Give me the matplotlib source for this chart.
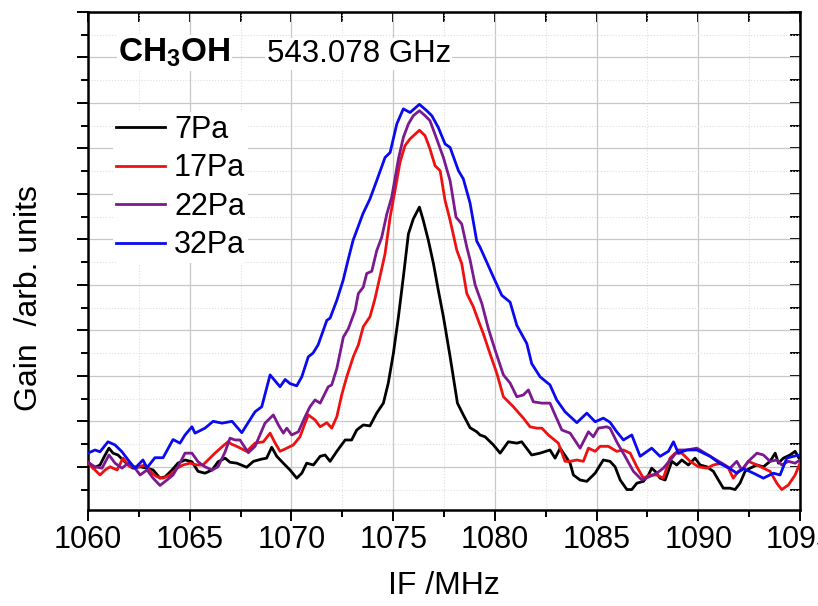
import matplotlib
matplotlib.use("Agg")
import matplotlib.pyplot as plt
from matplotlib.ticker import MultipleLocator, NullFormatter

plt.rcParams['font.family'] = ['Liberation Sans', 'DejaVu Sans']
plt.rcParams['mathtext.fontset'] = 'custom'
plt.rcParams['mathtext.rm'] = 'Liberation Sans'
plt.rcParams['mathtext.bf'] = 'Liberation Sans:bold'

### Data ###
# IF frequency in MHz, gain in arb. units (0 = baseline)

x_7pa = [1060.00, 1060.25, 1060.59, 1060.84, 1061.03, 1061.23, 1061.47, 1061.72, 1061.97, 1062.21,
         1062.56, 1062.90, 1063.20, 1063.54, 1063.79, 1064.13, 1064.42, 1064.77, 1065.11, 1065.41,
         1065.75, 1066.10, 1066.39, 1066.74, 1066.98, 1067.31, 1067.80, 1068.13, 1068.54, 1068.78,
         1069.03, 1069.28, 1069.60, 1069.93, 1070.26, 1070.51, 1070.75, 1071.08, 1071.41, 1071.65,
         1071.90, 1072.23, 1072.64, 1072.96, 1073.21, 1073.53, 1073.86, 1074.19, 1074.52, 1074.76,
         1075.01, 1075.26, 1075.50, 1075.75, 1075.99, 1076.29, 1076.48, 1076.73, 1076.98, 1077.22,
         1077.47, 1077.80, 1078.16, 1078.45, 1078.78, 1079.11, 1079.27, 1079.52, 1079.93, 1080.26,
         1080.66, 1081.08, 1081.32, 1081.81, 1082.22, 1082.71, 1082.96, 1083.21, 1083.70, 1083.86,
         1084.19, 1084.52, 1084.93, 1085.33, 1085.66, 1085.91, 1086.16, 1086.49, 1086.73, 1086.98,
         1087.30, 1087.55, 1087.71, 1087.88, 1088.12, 1088.37, 1088.70, 1088.94, 1089.19, 1089.51,
         1089.84, 1090.09, 1090.42, 1090.74, 1090.99, 1091.23, 1091.56, 1091.81, 1092.05, 1092.30,
         1092.55, 1092.88, 1093.20, 1093.53, 1093.78, 1093.94, 1094.18, 1094.51, 1094.76, 1095.00]
y_7pa = [0.12, -0.03, 0.04, 0.26, 0.41, 0.30, 0.26, 0.15, 0.04, -0.03,
         0.00, -0.03, -0.07, -0.25, -0.22, -0.07, 0.08, 0.15, 0.11, -0.10,
         -0.14, -0.07, 0.11, 0.19, 0.10, 0.08, -0.01, 0.12, 0.17, 0.19,
         0.43, 0.23, 0.08, -0.07, -0.25, -0.14, 0.08, 0.04, 0.23, 0.26,
         0.12, 0.34, 0.59, 0.59, 0.81, 0.92, 0.90, 1.18, 1.40, 1.84,
         2.49, 3.30, 4.17, 5.12, 5.45, 5.71, 5.42, 4.98, 4.47, 3.88,
         3.30, 2.42, 1.40, 1.14, 0.86, 0.77, 0.70, 0.66, 0.48, 0.30,
         0.55, 0.52, 0.55, 0.26, 0.30, 0.37, 0.19, 0.41, 0.08, -0.18,
         -0.29, -0.32, -0.14, 0.15, 0.12, 0.00, -0.29, -0.50, -0.50, -0.36,
         -0.32, -0.18, -0.03, -0.10, -0.25, -0.29, 0.12, 0.04, 0.15, 0.04,
         0.19, 0.04, 0.00, -0.10, -0.29, -0.47, -0.47, -0.50, -0.36, -0.10,
         -0.03, 0.04, 0.00, 0.12, 0.30, 0.08, 0.19, 0.26, 0.34, 0.15]

x_17pa = [1060.00, 1060.25, 1060.59, 1060.84, 1061.08, 1061.43, 1061.72, 1062.06, 1062.46, 1062.80,
          1063.15, 1063.39, 1063.69, 1064.03, 1064.38, 1064.67, 1065.01, 1065.36, 1065.65, 1065.90,
          1066.24, 1066.59, 1066.88, 1067.05, 1067.31, 1067.80, 1068.21, 1068.62, 1068.95, 1069.19,
          1069.44, 1069.77, 1070.09, 1070.42, 1070.67, 1070.83, 1071.16, 1071.41, 1071.74, 1071.98,
          1072.23, 1072.47, 1072.72, 1073.04, 1073.29, 1073.53, 1073.86, 1074.11, 1074.36, 1074.60,
          1074.85, 1075.09, 1075.34, 1075.58, 1075.83, 1076.29, 1076.57, 1076.81, 1077.06, 1077.31,
          1077.55, 1077.80, 1078.13, 1078.37, 1078.62, 1078.94, 1079.20, 1079.43, 1079.76, 1080.10,
          1080.42, 1080.91, 1081.40, 1081.73, 1082.06, 1082.31, 1082.63, 1083.12, 1083.45, 1083.70,
          1084.03, 1084.35, 1084.60, 1084.93, 1085.17, 1085.58, 1085.99, 1086.32, 1086.65, 1086.98,
          1087.30, 1087.63, 1087.96, 1088.28, 1088.61, 1088.86, 1089.19, 1089.60, 1090.01, 1090.42,
          1090.74, 1091.15, 1091.48, 1091.72, 1091.97, 1092.22, 1092.46, 1092.88, 1093.20, 1093.53,
          1093.86, 1094.10, 1094.43, 1094.76, 1095.00]
y_17pa = [0.10, -0.03, -0.18, -0.07, 0.00, -0.07, 0.19, 0.00, 0.00, 0.04,
          -0.14, -0.22, -0.25, -0.18, -0.03, 0.04, 0.08, 0.04, 0.04, 0.15,
          0.30, 0.44, 0.55, 0.50, 0.45, 0.34, 0.52, 0.55, 0.74, 0.53,
          0.34, 0.41, 0.48, 0.66, 0.96, 1.14, 1.03, 0.88, 0.97, 0.85,
          1.10, 1.58, 1.98, 2.42, 2.68, 3.08, 3.30, 3.70, 4.20, 4.68,
          5.49, 6.07, 6.70, 7.06, 7.21, 7.40, 7.28, 6.99, 6.62, 6.51,
          5.86, 5.42, 4.76, 4.47, 3.81, 3.52, 3.20, 2.93, 2.49, 2.05,
          1.54, 1.32, 1.07, 0.88, 0.85, 0.85, 0.70, 0.52, 0.12, 0.12,
          0.15, 0.12, 0.41, 0.34, 0.45, 0.45, 0.34, 0.37, 0.30, 0.00,
          -0.25, -0.18, -0.18, -0.25, 0.19, 0.30, 0.30, 0.12, 0.00, -0.03,
          0.04, 0.08, -0.03, -0.25, -0.10, -0.03, 0.12, 0.04, -0.03, -0.10,
          -0.36, -0.50, -0.40, -0.18, 0.08]

x_22pa = [1060.00, 1060.34, 1060.69, 1061.03, 1061.33, 1061.67, 1061.97, 1062.31, 1062.56, 1062.90,
          1063.20, 1063.54, 1063.88, 1064.18, 1064.42, 1064.77, 1065.11, 1065.41, 1065.75, 1066.10,
          1066.39, 1066.74, 1066.98, 1067.23, 1067.47, 1067.88, 1068.21, 1068.70, 1069.11, 1069.36,
          1069.60, 1069.77, 1070.01, 1070.34, 1070.67, 1070.91, 1071.16, 1071.41, 1071.81, 1071.98,
          1072.23, 1072.55, 1072.80, 1073.13, 1073.29, 1073.53, 1073.70, 1073.95, 1074.19, 1074.44,
          1074.69, 1074.93, 1075.26, 1075.50, 1075.75, 1075.99, 1076.29, 1076.57, 1076.81, 1077.14,
          1077.47, 1077.80, 1078.09, 1078.37, 1078.62, 1078.78, 1079.03, 1079.36, 1079.68, 1080.01,
          1080.42, 1080.75, 1081.08, 1081.40, 1081.65, 1081.89, 1082.31, 1082.71, 1082.96, 1083.29,
          1083.70, 1084.19, 1084.60, 1084.84, 1085.09, 1085.50, 1085.66, 1085.99, 1086.40, 1086.81,
          1087.23, 1087.63, 1087.96, 1088.28, 1088.70, 1089.02, 1089.43, 1089.93, 1090.34, 1090.74,
          1091.15, 1091.56, 1091.89, 1092.14, 1092.46, 1092.88, 1093.20, 1093.53, 1093.86, 1094.10,
          1094.43, 1094.76, 1095.00]
y_22pa = [0.10, 0.00, -0.03, 0.26, 0.08, -0.03, 0.08, -0.03, -0.18, -0.07,
          -0.25, -0.41, -0.29, -0.18, 0.00, 0.30, 0.30, 0.11, 0.00, -0.07,
          0.00, 0.33, 0.63, 0.59, 0.59, 0.31, 0.45, 0.96, 1.14, 0.92,
          0.74, 0.85, 0.70, 0.77, 1.10, 1.32, 1.47, 1.40, 1.76, 1.80,
          2.16, 2.85, 3.04, 3.44, 3.81, 3.95, 4.25, 4.30, 4.75, 5.05,
          5.56, 5.93, 6.77, 7.24, 7.54, 7.72, 7.83, 7.72, 7.61, 7.21,
          6.80, 6.29, 5.49, 5.34, 4.83, 4.55, 4.00, 3.59, 3.04, 2.57,
          2.02, 1.84, 1.54, 1.58, 1.69, 1.43, 1.40, 1.40, 1.14, 0.81,
          0.74, 0.41, 0.77, 0.66, 0.85, 0.88, 0.85, 0.55, 0.23, -0.10,
          -0.29, -0.21, -0.14, -0.03, 0.19, 0.37, 0.37, 0.41, 0.30, 0.19,
          0.08, -0.03, 0.12, -0.07, 0.12, 0.30, 0.26, 0.12, 0.15, 0.04,
          0.12, 0.08, 0.15]

x_32pa = [1060.00, 1060.34, 1060.59, 1060.98, 1061.33, 1061.67, 1062.06, 1062.31, 1062.70, 1062.90,
          1063.29, 1063.69, 1064.18, 1064.52, 1064.77, 1065.11, 1065.26, 1065.75, 1066.15, 1066.59,
          1067.08, 1067.56, 1068.21, 1068.54, 1068.95, 1069.44, 1069.69, 1069.93, 1070.26, 1070.51,
          1070.83, 1071.06, 1071.31, 1071.74, 1071.90, 1072.23, 1072.54, 1072.78, 1073.03, 1073.52,
          1073.86, 1074.19, 1074.60, 1074.85, 1075.18, 1075.50, 1075.83, 1076.29, 1076.65, 1076.90,
          1077.22, 1077.55, 1077.80, 1078.21, 1078.45, 1078.78, 1079.11, 1079.27, 1079.52, 1079.93,
          1080.34, 1080.75, 1081.08, 1081.57, 1081.81, 1082.22, 1082.71, 1083.04, 1083.45, 1084.03,
          1084.52, 1084.93, 1085.33, 1085.66, 1085.99, 1086.32, 1086.73, 1087.14, 1087.71, 1088.12,
          1088.53, 1088.78, 1089.02, 1089.43, 1089.93, 1090.58, 1091.07, 1091.56, 1091.89, 1092.22,
          1092.71, 1093.20, 1093.69, 1094.02, 1094.35, 1094.67, 1095.00]
y_32pa = [0.30, 0.37, 0.33, 0.55, 0.48, 0.33, 0.10, -0.03, 0.15, -0.02,
          0.20, 0.20, 0.60, 0.52, 0.70, 0.88, 0.74, 0.85, 1.00, 0.96,
          1.00, 0.75, 1.21, 1.32, 2.02, 1.76, 1.92, 1.83, 1.78, 1.98,
          2.42, 2.50, 2.68, 3.22, 3.27, 3.66, 4.10, 4.54, 4.98, 5.57,
          5.89, 6.29, 6.80, 6.91, 7.54, 7.87, 7.79, 7.97, 7.83, 7.72,
          7.46, 7.10, 7.02, 6.51, 6.33, 5.80, 4.96, 4.83, 4.58, 4.17,
          3.77, 3.62, 3.11, 2.71, 2.27, 1.98, 1.80, 1.47, 1.21, 0.97,
          1.18, 0.99, 1.07, 0.98, 0.77, 0.59, 0.70, 0.23, 0.41, 0.23,
          0.34, 0.55, 0.30, 0.37, 0.37, 0.23, 0.07, -0.04, -0.14, -0.04,
          -0.14, -0.25, -0.14, -0.18, 0.19, 0.23, 0.26]

labels = ["7Pa", "17Pa", "22Pa", "32Pa"]
colors = ["black", "#ee1111", "#7a1a8e", "#0a0aee"]

### Plot ###
fig = plt.figure(figsize=(8.18, 6.06), dpi=100)
ax = fig.add_axes([0.1076, 0.1584, 0.8704, 0.8218])

series = [(x_7pa, y_7pa), (x_17pa, y_17pa), (x_22pa, y_22pa), (x_32pa, y_32pa)]
for (xs, ys), lab, col in zip(series, labels, colors):
    ax.plot(xs, ys, color=col, lw=2.0, label=lab, zorder=3)

ax.set_xlim(1060, 1095)
ax.set_ylim(-0.95, 10.0)

ax.xaxis.set_major_locator(MultipleLocator(5))
ax.xaxis.set_minor_locator(MultipleLocator(2.5))
ax.yaxis.set_major_locator(MultipleLocator(1))
ax.yaxis.set_minor_locator(MultipleLocator(0.5))
ax.yaxis.set_major_formatter(NullFormatter())

ax.grid(which='major', color='#c8c8c8', lw=0.9, ls='-', zorder=0)
ax.grid(which='minor', color='#dedede', lw=0.8, ls=':', zorder=0)
ax.set_axisbelow(True)

ax.tick_params(which='both', direction='out', width=1.4, labelsize=22, pad=3)
ax.tick_params(which='major', length=8)
ax.tick_params(which='minor', length=5)
for s in ax.spines.values():
    s.set_linewidth(1.8)

# top / right ticks point inwards
top = ax.secondary_xaxis('top')
top.xaxis.set_major_locator(MultipleLocator(5))
top.xaxis.set_minor_locator(MultipleLocator(2.5))
top.xaxis.set_major_formatter(NullFormatter())
top.tick_params(which='both', direction='in', length=7, width=1.4)
right = ax.secondary_yaxis('right')
right.yaxis.set_major_locator(MultipleLocator(1))
right.yaxis.set_minor_locator(MultipleLocator(0.5))
right.yaxis.set_major_formatter(NullFormatter())
right.tick_params(which='both', direction='in', length=7, width=1.4)

ax.set_xlabel("IF /MHz", fontsize=23)
ax.xaxis.set_label_coords(0.5, -0.122)
ax.set_ylabel("Gain  /arb. units", fontsize=23)
ax.yaxis.set_label_coords(-0.062, 0.426)

ax.text(0.042, 0.90, r"$\mathbf{CH_3OH}$", transform=ax.transAxes, fontsize=24,
        va='baseline', bbox=dict(facecolor='white', edgecolor='none', pad=1), zorder=4)
ax.text(0.251, 0.90, "543.078 GHz", transform=ax.transAxes, fontsize=22.5,
        va='baseline', bbox=dict(facecolor='white', edgecolor='none', pad=1), zorder=4)

leg = ax.legend(loc='upper left', bbox_to_anchor=(0.035, 0.80), fontsize=22,
                frameon=True, facecolor='white', edgecolor='none', framealpha=1,
                borderpad=0.1, borderaxespad=0, handlelength=1.6, handletextpad=0.3,
                labelspacing=0.28)
leg.set_zorder(4)

fig.savefig("out.png", dpi=100)
